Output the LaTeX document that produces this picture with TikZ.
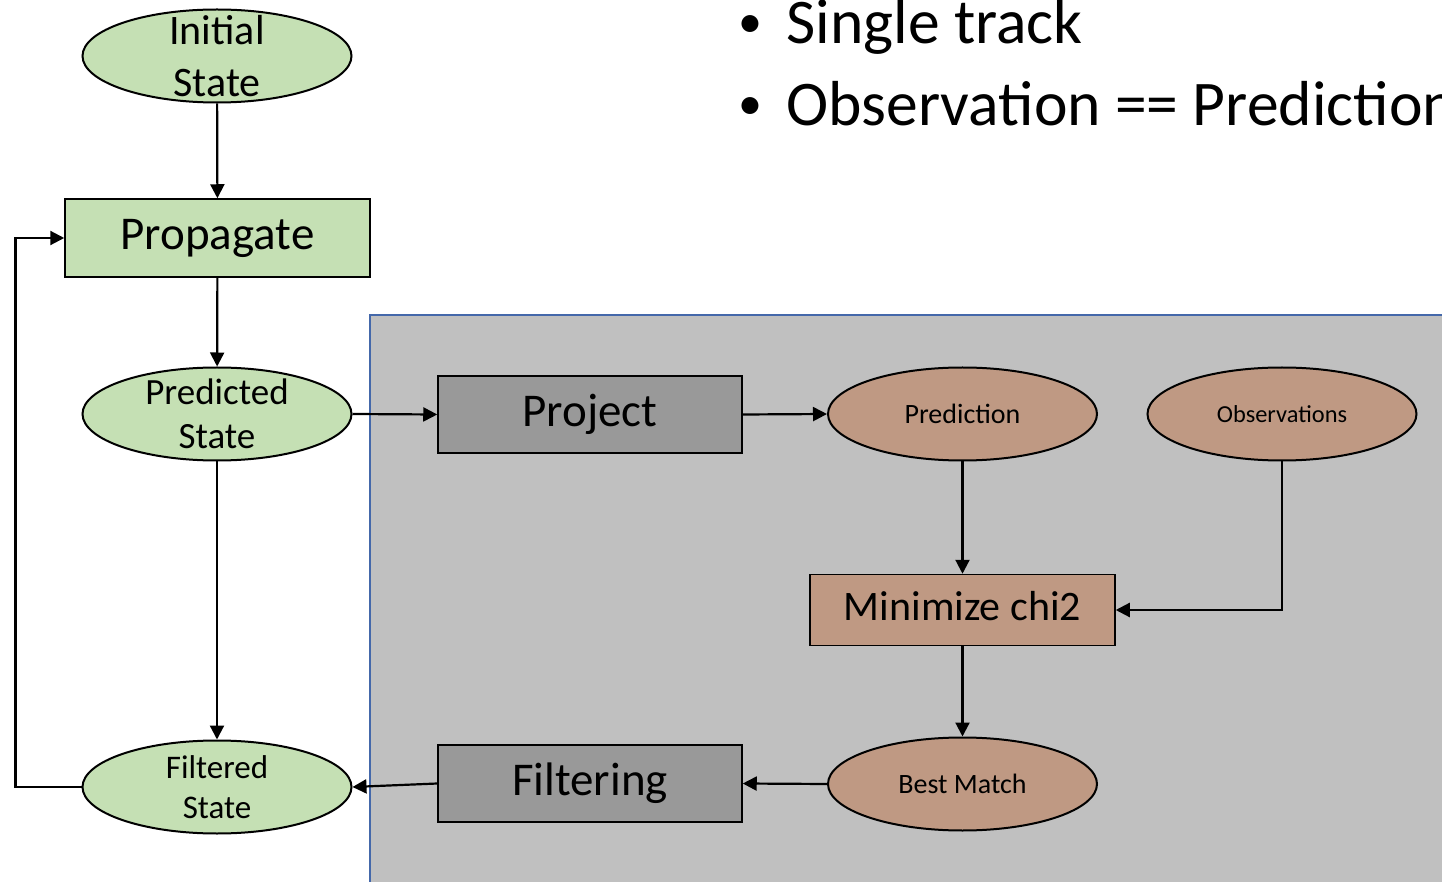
\documentclass[tikz,border=0pt]{standalone}
\usepackage{fontspec}
\setmainfont{Carlito}
\usetikzlibrary{shapes.geometric,arrows.meta}
\definecolor{greenfill}{RGB}{197,224,180}
\definecolor{brownfill}{RGB}{191,153,131}
\definecolor{panelgray}{RGB}{192,192,192}
\definecolor{boxgray}{RGB}{153,153,153}
\definecolor{panelblue}{RGB}{68,104,170}
\tikzset{
  ell/.style={ellipse,draw=black,line width=1pt,inner sep=-20pt,minimum width=134.5pt,minimum height=46.5pt,align=center},
  gell/.style={ell,fill=greenfill},
  bell/.style={ell,fill=brownfill},
  rbox/.style={rectangle,draw=black,line width=0.75pt,inner sep=0pt,align=center},
  conn/.style={line width=1.1pt,-{Triangle[length=7pt,width=7pt]}},
  bullettext/.style={anchor=base west,font=\fontsize{31.8}{36}\selectfont,inner sep=0pt},
  bulletdot/.style={anchor=base west,font=\fontsize{24}{28}\selectfont,inner sep=0pt},
}
\begin{document}
\begin{tikzpicture}[x=0.5pt,y=-0.5pt]
\useasboundingbox (0,0) rectangle (1442,882);
\clip (0,0) rectangle (1442,882);
% panel
\draw[fill=panelgray,draw=panelblue,line width=1pt] (370,315) rectangle (1460,900);
% bullets
\node[bulletdot] (d1) at (738,38) {•};
\node[bullettext] (b1) at (786,44) {Single track};
\node[bulletdot] (d2) at (738,120) {•};
\node[bullettext] (b2) at (786,126) {Observation == Prediction};
% left column
\node[gell,font=\fontsize{21}{26}\selectfont] (init) at (217,56) {Initial\\State};
\node[rbox,fill=greenfill,minimum width=152.5pt,minimum height=39pt,font=\fontsize{23.5}{28}\selectfont,text height=17.6pt,text depth=5.9pt] (prop) at (217.5,238) {Propagate};
\node[gell,font=\fontsize{18.5}{22}\selectfont] (pred) at (217,414) {Predicted\\State};
\node[gell,font=\fontsize{16.5}{20}\selectfont] (filt) at (217,787) {Filtered\\State};
% panel content
\node[rbox,fill=boxgray,minimum width=152pt,minimum height=38.5pt,font=\fontsize{23.5}{28}\selectfont,text height=17.6pt,text depth=5.9pt] (proj) at (590,414.5) {Project};
\node[bell,font=\fontsize{14}{17}\selectfont] (predn) at (962.5,414) {Prediction};
\node[bell,font=\fontsize{12.2}{15}\selectfont] (obs) at (1282,414) {Observations};
\node[rbox,fill=brownfill,minimum width=152.5pt,minimum height=35.5pt,font=\fontsize{21}{26}\selectfont,text height=15.8pt,text depth=5.3pt] (chi) at (962.5,610) {Minimize chi2};
\node[bell,font=\fontsize{14}{17}\selectfont] (best) at (962.5,784) {Best Match};
\node[rbox,fill=boxgray,minimum width=152pt,minimum height=38.5pt,font=\fontsize{23.5}{28}\selectfont,text height=17.6pt,text depth=5.9pt] (filtr) at (590,783.5) {Filtering};
% connectors
\draw[conn] (init) -- (prop);
\draw[conn] (prop) -- (pred);
\draw[conn] (pred) -- (filt);
\draw[conn] (filt.west) -- ++(-66,0) |- (prop.west);
\draw[conn] (pred.east) -- (proj.west);
\draw[conn] (proj.east) -- (predn.west);
\draw[conn] (predn) -- (chi);
\draw[conn] (obs.south) |- (chi.east);
\draw[conn] (chi) -- (best);
\draw[conn] (best.west) -- (filtr.east);
\draw[conn] (filtr.west) -- (filt.east);
\end{tikzpicture}
\end{document}
